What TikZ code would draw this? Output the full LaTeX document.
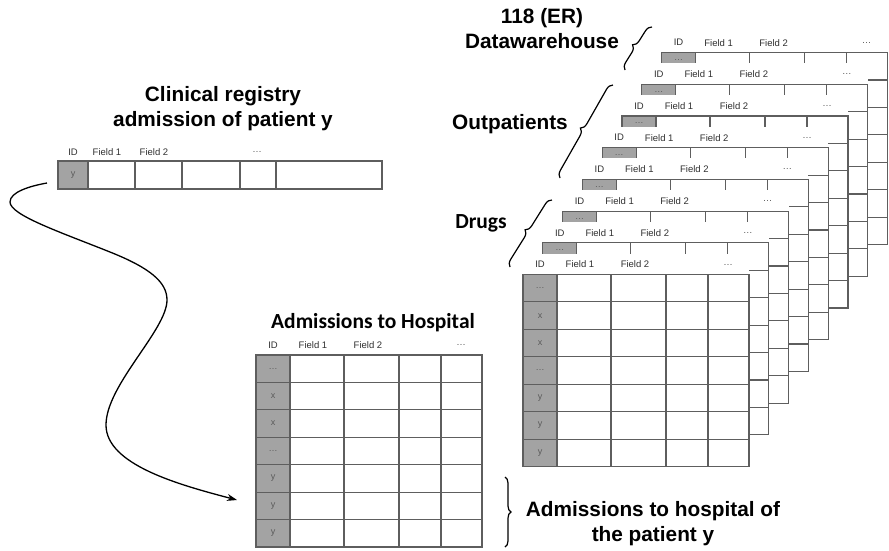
\documentclass[tikz,border=0pt]{standalone}
\usepackage{fontspec}
\setmainfont{Liberation Sans}
\newfontfamily\calib{Carlito}
\usetikzlibrary{arrows.meta,decorations.pathreplacing}
\definecolor{idgray}{HTML}{A3A3A3}
\definecolor{gridc}{HTML}{5E5E5E}
\definecolor{hdrc}{HTML}{303030}
\definecolor{cellc}{HTML}{5A5A5A}
\newcommand{\dbtable}[4]{% #1 name, #2 left, #3 top, #4 = 1 for a fully visible table
  \begin{scope}[shift={({#2},{#3})}]
    \fill[white] (0,-21) rectangle (226,192);
    \fill[idgray] (0,0) rectangle (34,192);
    \foreach \cx in {34,88,143,185} \draw[gridline] (\cx,0) -- (\cx,192);
    \foreach \i in {1,...,6} \draw[gridline] (0,{\i*27.43}) -- (226,{\i*27.43});
    \draw[gridline] (0,0) rectangle (226,192);
    \node[hdr] (#1-id) at (17,-10) {ID};
    \node[hdr] (#1-f1) at (57,-10) {Field 1};
    \node[hdr] (#1-f2) at (112,-10) {Field 2};
    \node[hdr,text=cellc] (#1-dots) at (205,-10) {\ldots};
    \ifnum#4=1
      \foreach \lab [count=\j] in {{\ldots},x,x,{\ldots},y,y,y}
        \node[cell] (#1-r\j) at (17,{(\j-0.5)*27.43}) {\lab};
    \else
      \node[cell] (#1-r1) at (17,7.5) {\ldots};
    \fi
  \end{scope}}
\begin{document}
\begin{tikzpicture}[x=1pt,y=-1pt,
  title/.style={font=\fontsize{20.8}{25}\selectfont\bfseries, align=center, inner sep=0pt},
  ctitle/.style={font=\calib\fontsize{21.5}{25}\selectfont\bfseries, inner sep=0pt},
  hdr/.style={font=\fontsize{9.5}{10}\selectfont, text=hdrc, inner sep=0pt},
  cell/.style={font=\fontsize{9}{10}\selectfont, text=cellc, inner sep=0pt},
  gridline/.style={draw=gridc, line width=1.1pt},
  bracestyle/.style={decorate, decoration={brace, amplitude=7pt}, line width=1.2pt, draw=black}
]
\useasboundingbox (0,0) rectangle (889,550);

% stacked data warehouse tables, back to front
\foreach \k in {7,6,...,0} {
  \pgfmathtruncatemacro\full{\k==0 ? 1 : 0}
  \dbtable{tab\k}{523+19.8*\k}{274.5-31.7*\k}{\full}
}

% admissions to hospital table
\dbtable{adm}{256}{355}{1}

% clinical registry row
\fill[idgray] (58,161) rectangle (88,189);
\foreach \cx in {88,135,182,240,276} \draw[gridline] (\cx,161) -- (\cx,189);
\draw[gridline] (58,161) rectangle (382,189);
\node[hdr] (reg-id) at (73,152) {ID};
\node[hdr] (reg-f1) at (107,152) {Field 1};
\node[hdr] (reg-f2) at (154,152) {Field 2};
\node[hdr,text=cellc] (reg-dots) at (257,152) {\ldots};
\node[cell] (reg-y) at (73,175) {y};

% titles
\node[title] (regtitle) at (223,109) {Clinical registry\\admission of patient y};
\node[title] (dwtitle) at (542,29) {118 (ER)\\Datawarehouse};
\node[title] (outp) at (510,124) {Outpatients};
\node[ctitle] (drugs) at (481,223) {Drugs};
\node[ctitle] (admtitle) at (373,323) {Admissions to Hospital};
\node[title] (admy) at (653,524) {Admissions to hospital of\\the patient y};

% braces
\coordinate (b1s) at (625,70);  \coordinate (b1e) at (652,27);
\coordinate (b2s) at (560,178); \coordinate (b2e) at (613,85);
\coordinate (b3s) at (510,267); \coordinate (b3e) at (552,200);
\coordinate (b4s) at (505,477); \coordinate (b4e) at (505,547);
\draw[bracestyle] (b1s) -- (b1e);
\draw[bracestyle] (b2s) -- (b2e);
\draw[bracestyle] (b3s) -- (b3e);
\draw[bracestyle,decoration={amplitude=6pt}] (b4s) -- (b4e);

% curved connector
\coordinate (arrowstart) at (47,183);
\coordinate (arrowend) at (237,500);
\draw[line width=1.3pt, -{Stealth[length=10pt,width=7pt]}]
  (arrowstart) .. controls (30,186) and (10,192) .. (10,202)
  .. controls (10,215) and (60,232) .. (110,252)
  .. controls (150,268) and (167,282) .. (167,300)
  .. controls (167,330) and (106,385) .. (106,425)
  .. controls (106,465) and (180,485) .. (arrowend);
\end{tikzpicture}
\end{document}
